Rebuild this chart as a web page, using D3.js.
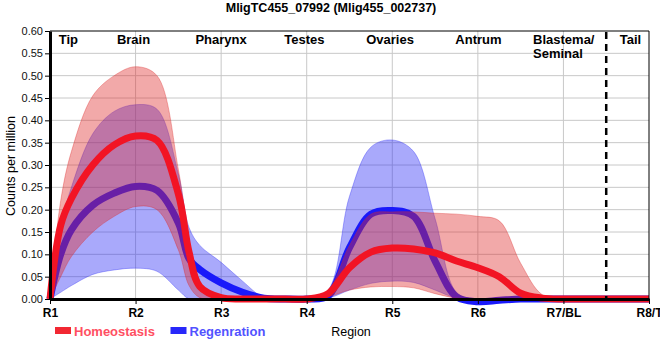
<!DOCTYPE html>
<html><head><meta charset="utf-8">
<script src="https://cdn.jsdelivr.net/npm/d3@7"></script>
<style>body{margin:0;background:#fff}svg{display:block;font-family:"Liberation Sans",Arial,sans-serif}</style>
</head><body><svg id="c" width="660" height="360"></svg>
<script>
// ---- data ----
const title = "MligTC455_07992 (Mlig455_002737)";
const regionPos = [1, 1.125, 1.25, 1.5, 1.75, 2, 2.25, 2.5, 2.625, 2.75, 3, 3.25, 3.5, 3.75, 4, 4.25, 4.5, 4.75, 5, 5.25, 5.5, 5.75, 6, 6.25, 6.5, 6.75, 7, 7.25, 7.5, 7.75, 8];
const homMean  = [0, 0.165, 0.225, 0.300, 0.345, 0.365, 0.355, 0.235, 0.105, 0.028, 0.003, 0, 0, 0, 0, 0.012, 0.070, 0.105, 0.114, 0.112, 0.103, 0.085, 0.070, 0.050, 0.013, 0.002, 0, 0, 0, 0, 0];
const homUpper = [0, 0.22, 0.33, 0.455, 0.50, 0.52, 0.50, 0.29, 0.13, 0.02, 0.003, 0, 0, 0, 0, 0.02, 0.12, 0.19, 0.195, 0.195, 0.192, 0.19, 0.185, 0.175, 0.08, 0.01, 0, 0, 0, 0, 0];
const homLower = [0, 0.05, 0.095, 0.15, 0.185, 0.207, 0.20, 0.11, 0.03, 0.003, 0, 0, 0, 0, 0, 0.005, 0.02, 0.027, 0.028, 0.025, 0.012, 0.002, 0, 0, 0, 0, 0, 0, 0, 0, 0];
const regMean  = [0, 0.10, 0.155, 0.21, 0.237, 0.252, 0.243, 0.17, 0.09, 0.066, 0.036, 0.015, 0.002, 0, 0, 0.007, 0.115, 0.19, 0.198, 0.185, 0.085, 0.005, -0.006, -0.003, 0, 0, 0, 0, 0, 0, 0];
const regUpper = [0, 0.16, 0.25, 0.37, 0.42, 0.435, 0.425, 0.28, 0.16, 0.12, 0.082, 0.04, 0.003, 0, 0, 0.02, 0.23, 0.34, 0.356, 0.33, 0.18, 0.015, 0, 0, 0, 0, 0, 0, 0, 0, 0];
const regLower = [0, 0.015, 0.03, 0.055, 0.065, 0.069, 0.062, 0.02, 0, 0, 0, 0, 0, 0, 0, 0.002, 0.02, 0.035, 0.04, 0.037, 0.02, 0.002, 0, 0, 0, 0, 0, 0, 0, 0, 0];
const xTickPos = [1, 2, 3, 4, 5, 6, 7, 8];
const xTickLabels = ["R1", "R2", "R3", "R4", "R5", "R6", "R7/BL", "R8/T"];
const yTicks = [0, 0.05, 0.10, 0.15, 0.20, 0.25, 0.30, 0.35, 0.40, 0.45, 0.50, 0.55, 0.60];
const regionNames = ["Tip", "Brain", "Pharynx", "Testes", "Ovaries", "Antrum", "Blastema/|Seminal", "Tail"];
const seriesNames = ["Homeostasis", "Regenration"];

// ---- layout ----
const regionLabelAt = [1.215, 1.976, 2.999, 3.974, 4.974, 6.007, 6.645, 7.783];
const regionAnchor = ["middle","middle","middle","middle","middle","middle","start","middle"];
const dividerAt = 7.5;

const svg = d3.select("#c");
const x = d3.scaleLinear().domain([1, 8]).range([50, 649]);
const y = d3.scaleLinear().domain([0, 0.6]).range([299, 31]);

// grid
svg.append("g").selectAll("line").data(yTicks.slice(1, -1)).join("line")
  .attr("x1", 50).attr("x2", 649).attr("y1", d => y(d)).attr("y2", d => y(d))
  .attr("stroke", "#c8c8c8").attr("stroke-width", 1);
svg.append("g").selectAll("line").data(xTickPos.slice(1, -1)).join("line")
  .attr("x1", d => x(d)).attr("x2", d => x(d)).attr("y1", 31).attr("y2", 299)
  .attr("stroke", "#c8c8c8").attr("stroke-width", 1);

const pts = (arr) => regionPos.map((p, i) => ({x: p, v: arr[i]}));
const band = (lo, hi) => regionPos.map((p, i) => ({x: p, lo: lo[i], hi: hi[i]}));
const curve = d3.curveCatmullRom.alpha(0.5);
const line = d3.line().x(d => x(d.x)).y(d => y(d.v)).curve(curve);
const area = d3.area().x(d => x(d.x)).y0(d => y(d.lo)).y1(d => y(d.hi)).curve(curve);

// regeneration (blue) first
svg.append("path").attr("d", area(band(regLower, regUpper)))
  .attr("fill", "rgba(40,40,245,0.4)").attr("stroke", "rgba(40,40,245,0.35)").attr("stroke-width", 1);
svg.append("path").attr("d", line(pts(regMean)))
  .attr("fill", "none").attr("stroke", "rgb(25,25,250)").attr("stroke-width", 7).attr("stroke-linejoin", "round");
// homeostasis (red)
svg.append("path").attr("d", area(band(homLower, homUpper)))
  .attr("fill", "rgba(222,40,40,0.4)").attr("stroke", "rgba(222,40,40,0.35)").attr("stroke-width", 1);
svg.append("path").attr("d", line(pts(homMean)))
  .attr("fill", "none").attr("stroke", "rgb(242,20,36)").attr("stroke-width", 7).attr("stroke-linejoin", "round");

// frame top/right
svg.append("line").attr("x1", 50).attr("x2", 649).attr("y1", 31).attr("y2", 31).attr("stroke", "#000");
svg.append("line").attr("x1", 649).attr("x2", 649).attr("y1", 31).attr("y2", 299).attr("stroke", "#000");

// divider
svg.append("line").attr("x1", x(dividerAt)).attr("x2", x(dividerAt)).attr("y1", 32).attr("y2", 299)
  .attr("stroke", "#000").attr("stroke-width", 2.5).attr("stroke-dasharray", "7,5");

// axes
const yAxis = svg.append("g").attr("transform", "translate(50,0)")
  .call(d3.axisLeft(y).tickValues(yTicks).tickFormat(d3.format(".2f")).tickSize(5).tickSizeOuter(0).tickPadding(2));
yAxis.select(".domain").attr("stroke-width", 3);
yAxis.selectAll("text").attr("font-size", 11).attr("fill", "#111").attr("font-family", '"Liberation Sans",Arial,sans-serif');

const xAxis = svg.append("g").attr("transform", "translate(0,299)")
  .call(d3.axisBottom(x).tickValues(xTickPos).tickFormat((d, i) => xTickLabels[i]).tickSize(5).tickSizeOuter(0).tickPadding(4));
xAxis.select(".domain").attr("stroke-width", 3);
xAxis.selectAll("text").attr("font-size", 12).attr("font-weight", "bold").attr("fill", "#000").attr("font-family", '"Liberation Sans",Arial,sans-serif');

// region labels
regionNames.forEach((n, i) => {
  const t = svg.append("text").attr("x", x(regionLabelAt[i])).attr("y", 44)
    .attr("text-anchor", regionAnchor[i]).attr("font-size", 13).attr("font-weight", "bold").attr("fill", "#000");
  n.split("|").forEach((s, j) => t.append("tspan").attr("x", x(regionLabelAt[i])).attr("dy", j ? 14 : 0).text(s));
});

// title
svg.append("text").attr("x", 331).attr("y", 11.5).attr("text-anchor", "middle")
  .attr("font-size", 12.5).attr("font-weight", "bold").attr("fill", "#000").text(title);

// axis titles
svg.append("text").attr("transform", "translate(15,166) rotate(-90)").attr("text-anchor", "middle")
  .attr("font-size", 12.5).attr("fill", "#000").text("Counts per million");
svg.append("text").attr("x", 351).attr("y", 336).attr("text-anchor", "middle")
  .attr("font-size", 12.5).attr("fill", "#000").text("Region");

// legend
const legendX = [55, 170.5];
const swatchCol = ["rgb(242,40,50)", "rgb(40,40,250)"];
const textCol = ["#ff4f62", "#5252ff"];
seriesNames.forEach((n, i) => {
  svg.append("rect").attr("x", legendX[i]).attr("y", 327).attr("width", 16).attr("height", 7).attr("fill", swatchCol[i]);
  svg.append("text").attr("x", legendX[i] + 19).attr("y", 335.5).attr("font-size", 13).attr("font-weight", "bold")
    .attr("fill", textCol[i]).text(n);
});
</script></body></html>
